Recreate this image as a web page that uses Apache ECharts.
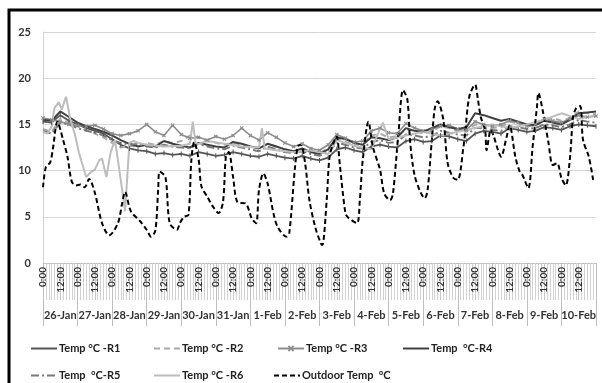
<!DOCTYPE html>
<html>
<head>
<meta charset="utf-8">
<script src="https://cdn.jsdelivr.net/npm/echarts@6/dist/echarts.min.js"></script>
<style>
  html, body { margin: 0; padding: 0; background: #fff; }
  #chart { width: 602px; height: 383px; }
</style>
</head>
<body>
<div id="chart"></div>
<script>
// day labels under the hour labels
const dates = ["26-Jan", "27-Jan", "28-Jan", "29-Jan", "30-Jan", "31-Jan", "1-Feb", "2-Feb",
  "3-Feb", "4-Feb", "5-Feb", "6-Feb", "7-Feb", "8-Feb", "9-Feb", "10-Feb"];

// room readings, one value every 6 hours from 26-Jan 0:00
const tempR1 = [15.3, 15.2, 16.0, 15.4, 15.0, 14.6, 14.3, 14.0, 13.4, 12.8, 12.4, 12.2, 12.1, 11.8, 11.9, 11.7,
  11.8, 11.6, 12.0, 11.8, 11.6, 11.7, 12.0, 11.8, 11.6, 11.5, 11.8, 11.6, 11.4, 11.3, 11.6, 11.3,
  11.1, 11.4, 12.3, 12.5, 12.2, 12.0, 12.6, 12.8, 12.6, 12.5, 13.2, 13.4, 13.1, 13.2, 13.8, 13.7,
  13.4, 13.2, 14.0, 14.3, 14.2, 14.0, 14.6, 14.4, 14.2, 14.3, 14.7, 14.6, 14.4, 14.8, 15.0, 14.9, 14.8];
const tempR2 = [14.5, 14.2, 15.6, 15.2, 14.8, 14.4, 14.0, 13.6, 13.0, 12.5, 12.7, 12.6, 13.0, 12.8, 13.2, 13.0,
  13.2, 13.8, 13.6, 13.2, 13.0, 12.8, 13.0, 12.8, 12.6, 12.5, 12.9, 12.6, 12.3, 12.0, 12.3, 12.0,
  11.9, 12.4, 13.4, 13.1, 12.8, 12.9, 13.8, 14.0, 13.6, 13.7, 14.5, 14.3, 14.0, 14.2, 14.8, 14.6,
  14.3, 14.2, 15.0, 14.8, 14.6, 14.7, 15.3, 15.1, 14.8, 14.9, 15.6, 15.7, 15.4, 15.7, 16.4, 16.2, 16.1];
const tempR3 = [15.7, 15.5, 15.3, 15.0, 14.9, 14.8, 14.9, 14.5, 14.0, 13.8, 14.0, 14.3, 15.0, 14.2, 13.8, 14.9,
  13.9, 13.5, 13.6, 13.3, 13.7, 13.4, 13.8, 14.6, 13.8, 13.3, 14.1, 13.6, 13.0, 12.6, 12.9, 12.4,
  12.2, 12.8, 13.9, 13.5, 13.1, 13.2, 14.3, 14.6, 14.1, 14.0, 15.1, 14.6, 14.3, 14.5, 14.8, 14.9,
  14.5, 14.4, 15.3, 15.0, 14.8, 15.0, 15.4, 15.2, 14.8, 15.0, 15.6, 15.4, 15.2, 15.6, 16.0, 15.8, 15.9];
const tempR4 = [15.5, 15.4, 16.4, 15.8, 15.2, 14.8, 14.5, 14.2, 13.8, 13.3, 12.9, 12.6, 12.8, 12.6, 13.2, 12.9,
  12.7, 12.5, 13.0, 12.8, 12.6, 12.5, 13.1, 12.9, 12.6, 12.4, 12.9, 12.6, 12.3, 12.1, 12.4, 12.0,
  11.8, 12.3, 13.6, 13.4, 13.0, 12.8, 13.6, 13.5, 13.3, 13.6, 14.6, 14.3, 14.2, 14.6, 15.0, 14.7,
  14.5, 14.7, 16.2, 16.0, 15.7, 15.4, 15.6, 15.3, 15.0, 14.9, 15.4, 15.2, 15.0, 15.5, 16.2, 16.3, 16.4];
const tempR5 = [14.3, 14.0, 15.2, 15.0, 14.6, 14.3, 14.1, 13.8, 13.3, 13.0, 12.8, 12.9, 12.6, 12.5, 12.8, 12.6,
  12.5, 12.4, 12.9, 12.6, 12.4, 12.3, 12.7, 12.5, 12.3, 12.1, 12.6, 12.3, 12.0, 11.9, 12.1, 11.8,
  11.6, 12.0, 13.0, 12.8, 12.5, 12.4, 13.1, 13.3, 13.0, 13.1, 13.9, 13.8, 13.6, 13.7, 14.3, 14.1,
  13.9, 13.8, 14.6, 14.6, 14.4, 14.3, 14.8, 14.7, 14.5, 14.6, 15.0, 14.9, 14.7, 15.0, 15.5, 15.3, 15.2];

// R6 has sharp drops and spikes, so it keeps its own read times (hours from 26-Jan 0:00)
const r6Hours = [0, 3, 6, 8, 11, 13, 16, 19, 22, 25, 30, 33, 36, 39, 41, 44, 47, 50, 51, 54, 57, 60, 63, 66,
  72, 84, 96, 102, 104, 106, 114, 126, 138, 150, 152, 154, 162, 174, 186, 198, 204, 216, 228, 236,
  240, 252, 264, 276, 288, 300, 312, 324, 336, 348, 360, 372, 384];
const r6Temps = [14.2, 14.0, 14.8, 16.8, 17.4, 16.6, 18.0, 15.5, 14.0, 11.9, 9.3, 9.8, 10.1, 11.1, 11.3, 9.3,
  12.0, 13.3, 13.2, 9.0, 5.6, 13.0, 13.2, 13.0, 12.8, 12.6, 12.7, 12.9, 15.3, 12.8, 13.2, 12.9,
  12.6, 12.5, 14.6, 12.4, 12.2, 12.0, 12.2, 11.8, 13.3, 12.7, 12.3, 15.2, 13.4, 13.8, 14.2, 13.8,
  14.2, 14.6, 15.0, 14.6, 15.0, 15.5, 16.2, 15.6, 16.0];

// outdoor readings (hours from 26-Jan 0:00)
const outdoorHours = [0, 2, 5, 7, 10, 14, 17, 20, 23, 26, 29, 32, 36, 41, 46, 52, 55, 57, 61, 67, 72, 75, 78, 80,
  81, 85, 88, 93, 95, 98, 101, 103, 105, 108, 110, 114, 118, 122, 125, 127, 129, 132, 135, 141,
  145, 148, 150, 153, 156, 160, 163, 169, 171, 175, 177, 179, 182, 185, 189, 193, 194, 197, 199,
  202, 204, 206, 210, 212, 218, 220, 222, 226, 229, 234, 237, 241, 243, 247, 250, 253, 255, 258,
  262, 265, 267, 270, 272, 274, 278, 281, 285, 288, 292, 293, 296, 300, 302, 304, 307, 308, 311,
  313, 316, 318, 322, 324, 328, 331, 333, 337, 340, 343, 344, 347, 351, 354, 357, 360, 363, 366,
  368, 370, 373, 375, 379, 382];
const outdoorTemps = [8.2, 10.4, 10.9, 12.5, 15.3, 13.3, 11.5, 8.8, 8.4, 8.5, 8.2, 9.1, 7.6, 4.3, 3.0, 4.3, 6.5,
  7.7, 5.6, 4.6, 3.6, 2.85, 3.5, 8.0, 9.9, 9.3, 4.3, 3.6, 4.3, 5.0, 5.2, 11.1, 13.1, 11.3, 8.3,
  7.2, 6.1, 5.4, 6.6, 11.5, 12.0, 9.3, 6.6, 6.4, 4.8, 4.3, 7.9, 9.7, 8.6, 5.4, 3.9, 2.85, 3.2,
  10.4, 12.6, 12.8, 10.8, 6.8, 3.9, 2.1, 1.95, 6.8, 11.5, 13.1, 13.7, 10.8, 5.4, 4.9, 4.3, 6.8,
  11.1, 15.3, 12.6, 10.1, 7.5, 6.8, 7.5, 14.4, 18.7, 17.7, 13.0, 9.5, 7.7, 7.0, 7.8, 13.3, 16.7,
  17.5, 15.5, 10.8, 9.2, 9.0, 12.6, 13.9, 18.0, 19.3, 17.7, 15.8, 14.4, 12.2, 14.4, 13.7, 12.2,
  11.5, 13.7, 14.9, 11.5, 9.9, 9.5, 8.1, 12.6, 16.9, 18.4, 16.5, 13.0, 10.6, 10.8, 9.2, 8.4, 11.5,
  15.7, 16.7, 17.0, 13.3, 11.5, 9.0];

const yTicks = [0, 5, 10, 15, 20, 25];

const font = "Lato, 'DejaVu Sans', sans-serif";
const chart = echarts.init(document.getElementById("chart"));

function every6h(values) {
  return values.map((v, i) => [i * 6, v]);
}
function pairs(hours, values) {
  return hours.map((h, i) => [h, values[i]]);
}

const crossSymbol = "path://M0,1L1,0L2.5,1.5L4,0L5,1L3.5,2.5L5,4L4,5L2.5,3.5L1,5L0,4L1.5,2.5Z";

const names = ["Temp °C -R1", "Temp °C -R2", "Temp °C -R3", "Temp  °C-R4", "Temp  °C-R5", "Temp °C -R6", "Outdoor Temp  °C"];
const legendPos = [[25, 338], [148, 338], [272, 338], [397, 338], [25, 365], [148, 365], [268, 365]];
// only R3 keeps its marker in the legend
const legendMarker = [0, 0, 1, 0, 0, 0, 0];

const option = {
  animation: false,
  textStyle: { fontFamily: font },
  graphic: [{
    type: "rect",
    shape: { x: 9, y: 10, width: 600, height: 380 },
    style: { fill: "none", stroke: "#000", lineWidth: 3 },
    silent: true,
  }],
  legend: names.map((n, i) => ({
    data: [n],
    left: legendPos[i][0],
    top: legendPos[i][1],
    itemWidth: 26,
    itemHeight: 8,
    itemStyle: { opacity: legendMarker[i] },
    lineStyle: { width: 2 },
    textStyle: { fontSize: 11, fontWeight: "bold", color: "#222", fontFamily: font, padding: [0, 0, 0, -3] },
  })),
  grid: { left: 43, right: 6, top: 32, bottom: 120 },
  xAxis: [
    {
      type: "value",
      min: 0,
      max: 384,
      interval: 12,
      position: "bottom",
      axisLine: { show: true, lineStyle: { color: "#bfbfbf" } },
      axisTick: { show: true, length: 37, lineStyle: { color: "#c8c8c8" } },
      minorTick: { show: true, splitNumber: 6, length: 37, lineStyle: { color: "#d2d2d2" } },
      splitLine: { show: false },
      axisLabel: {
        rotate: 90,
        margin: 4,
        fontSize: 10,
        fontWeight: "bold",
        color: "#333",
        showMaxLabel: false,
        formatter: (v) => (v === 384 ? "" : (v % 24 === 0 ? "0:00" : "12:00")),
      },
    },
    {
      type: "category",
      data: dates,
      position: "bottom",
      offset: 0,
      boundaryGap: true,
      axisLine: { show: false },
      axisTick: { show: true, length: 63, interval: 0, lineStyle: { color: "#bfbfbf" } },
      axisLabel: { interval: 0, margin: 47, fontSize: 11, fontWeight: "bold", color: "#333" },
    },
  ],
  yAxis: {
    type: "value",
    min: yTicks[0],
    max: yTicks[yTicks.length - 1],
    interval: 5,
    axisLine: { show: true, lineStyle: { color: "#d0d0d0" } },
    axisTick: { show: false },
    splitLine: { lineStyle: { color: "#d6d6d6" } },
    axisLabel: { margin: 12, fontSize: 11, fontWeight: "bold", color: "#333" },
  },
  series: [
    {
      name: names[0], type: "line", data: every6h(tempR1),
      symbol: "rect", symbolSize: [1, 5],
      itemStyle: { color: "#555" }, lineStyle: { color: "#555", width: 1.8 },
    },
    {
      name: names[1], type: "line", data: every6h(tempR2), symbol: "none",
      itemStyle: { color: "#aaa" }, lineStyle: { color: "#aaa", width: 2, type: [6, 4] },
    },
    {
      name: names[2], type: "line", data: every6h(tempR3),
      symbol: crossSymbol, symbolSize: 4,
      itemStyle: { color: "#8c8c8c" }, lineStyle: { color: "#8c8c8c", width: 1.6 },
    },
    {
      name: names[3], type: "line", data: every6h(tempR4), symbol: "none",
      itemStyle: { color: "#404040" }, lineStyle: { color: "#404040", width: 2 },
    },
    {
      name: names[4], type: "line", data: every6h(tempR5), symbol: "none",
      itemStyle: { color: "#7a7a7a" }, lineStyle: { color: "#7a7a7a", width: 2, type: [8, 3, 2, 3] },
    },
    {
      name: names[5], type: "line", data: pairs(r6Hours, r6Temps), symbol: "none",
      itemStyle: { color: "#bdbdbd" }, lineStyle: { color: "#bdbdbd", width: 2 },
    },
    {
      name: names[6], type: "line", data: pairs(outdoorHours, outdoorTemps), symbol: "none",
      smooth: 0.3,
      itemStyle: { color: "#000" }, lineStyle: { color: "#000", width: 2, type: [5, 3] },
    },
  ],
};

chart.setOption(option);
</script>
</body>
</html>
